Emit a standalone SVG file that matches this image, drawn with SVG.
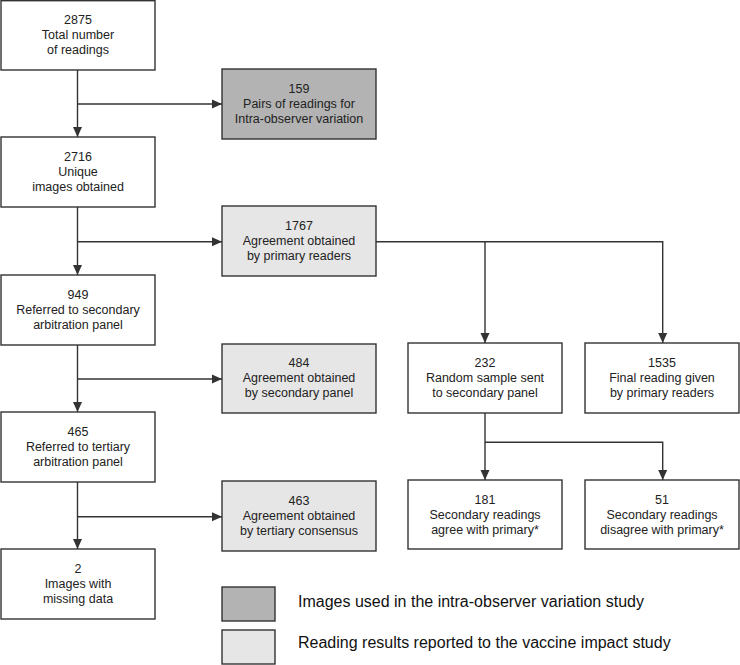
<svg xmlns="http://www.w3.org/2000/svg" width="740" height="665" viewBox="0 0 740 665">
<style>
.box{fill:#ffffff;stroke:#333333;stroke-width:1.4}
.dark{fill:#b3b3b3}
.light{fill:#e6e6e6}
.t{font-family:"Liberation Sans",Arial,sans-serif;font-size:12.5px;fill:#222222;text-anchor:middle}
.lg{font-family:"Liberation Sans",Arial,sans-serif;font-size:16px;fill:#111111}
.c{fill:none;stroke:#333333;stroke-width:1.4}
</style>
<defs>
<marker id="ah" viewBox="0 0 10 10" refX="10" refY="5" markerWidth="10" markerHeight="10" markerUnits="userSpaceOnUse" orient="auto">
<path d="M0,0.5 L10,5 L0,9.5 Z" fill="#333333"/>
</marker>
</defs>
<rect width="740" height="665" fill="#ffffff"/>
<g id="connectors">
<path class="c" d="M77.5,70 V137" marker-end="url(#ah)"/>
<path class="c" d="M77.5,104 H222" marker-end="url(#ah)"/>
<path class="c" d="M77.5,207 V275" marker-end="url(#ah)"/>
<path class="c" d="M77.5,241.7 H222" marker-end="url(#ah)"/>
<path class="c" d="M77.5,345 V412" marker-end="url(#ah)"/>
<path class="c" d="M77.5,379 H222" marker-end="url(#ah)"/>
<path class="c" d="M77.5,482 V549" marker-end="url(#ah)"/>
<path class="c" d="M77.5,516.7 H222" marker-end="url(#ah)"/>
<path class="c" d="M376,241.7 H662.7 V343" marker-end="url(#ah)"/>
<path class="c" d="M485,241.7 V343" marker-end="url(#ah)"/>
<path class="c" d="M485,413 V480" marker-end="url(#ah)"/>
<path class="c" d="M485,442.3 H662.7 V480" marker-end="url(#ah)"/>
</g>
<g id="n2875"><rect class="box" x="1" y="0.7" width="154" height="69.3"/>
<text class="t" x="78" y="24">2875</text><text class="t" x="78" y="39">Total number</text><text class="t" x="78" y="54">of readings</text></g>
<g id="n2716"><rect class="box" x="1" y="137" width="154" height="70"/>
<text class="t" x="78" y="161">2716</text><text class="t" x="78" y="176">Unique</text><text class="t" x="78" y="191">images obtained</text></g>
<g id="n949"><rect class="box" x="1" y="275" width="154" height="70"/>
<text class="t" x="78" y="298.5">949</text><text class="t" x="78" y="313.5">Referred to secondary</text><text class="t" x="78" y="328.5">arbitration panel</text></g>
<g id="n465"><rect class="box" x="1" y="412" width="154" height="70"/>
<text class="t" x="78" y="436">465</text><text class="t" x="78" y="451">Referred to tertiary</text><text class="t" x="78" y="466">arbitration panel</text></g>
<g id="n2"><rect class="box" x="1" y="549" width="154" height="70"/>
<text class="t" x="78" y="573">2</text><text class="t" x="78" y="588">Images with</text><text class="t" x="78" y="603">missing data</text></g>
<g id="n159"><rect class="box dark" x="222" y="69" width="154" height="70"/>
<text class="t" x="299" y="92.5">159</text><text class="t" x="299" y="107.5">Pairs of readings for</text><text class="t" x="299" y="122.5">Intra-observer variation</text></g>
<g id="n1767"><rect class="box light" x="222" y="206" width="154" height="70"/>
<text class="t" x="299" y="229.5">1767</text><text class="t" x="299" y="244.5">Agreement obtained</text><text class="t" x="299" y="259.5">by primary readers</text></g>
<g id="n484"><rect class="box light" x="222" y="344" width="154" height="69"/>
<text class="t" x="299" y="367">484</text><text class="t" x="299" y="382">Agreement obtained</text><text class="t" x="299" y="397">by secondary panel</text></g>
<g id="n463"><rect class="box light" x="222" y="481" width="154" height="70"/>
<text class="t" x="299" y="504.5">463</text><text class="t" x="299" y="519.5">Agreement obtained</text><text class="t" x="299" y="534.5">by tertiary consensus</text></g>
<g id="n232"><rect class="box" x="408" y="343" width="154" height="70"/>
<text class="t" x="485" y="367">232</text><text class="t" x="485" y="382">Random sample sent</text><text class="t" x="485" y="397">to secondary panel</text></g>
<g id="n1535"><rect class="box" x="585" y="343" width="154" height="70"/>
<text class="t" x="662" y="367">1535</text><text class="t" x="662" y="382">Final reading given</text><text class="t" x="662" y="397">by primary readers</text></g>
<g id="n181"><rect class="box" x="408" y="480" width="154" height="69"/>
<text class="t" x="485" y="503.5">181</text><text class="t" x="485" y="518.5">Secondary readings</text><text class="t" x="485" y="533.5">agree with primary*</text></g>
<g id="n51"><rect class="box" x="585" y="480" width="154" height="69"/>
<text class="t" x="662" y="503.5">51</text><text class="t" x="662" y="518.5">Secondary readings</text><text class="t" x="662" y="533.5">disagree with primary*</text></g>
<g id="legend">
<rect class="box dark" x="222" y="587" width="53" height="34"/>
<text class="lg" x="298" y="607">Images used in the intra-observer variation study</text>
<rect class="box light" x="222" y="630" width="53" height="34"/>
<text class="lg" x="298" y="648">Reading results reported to the vaccine impact study</text>
</g>
</svg>
